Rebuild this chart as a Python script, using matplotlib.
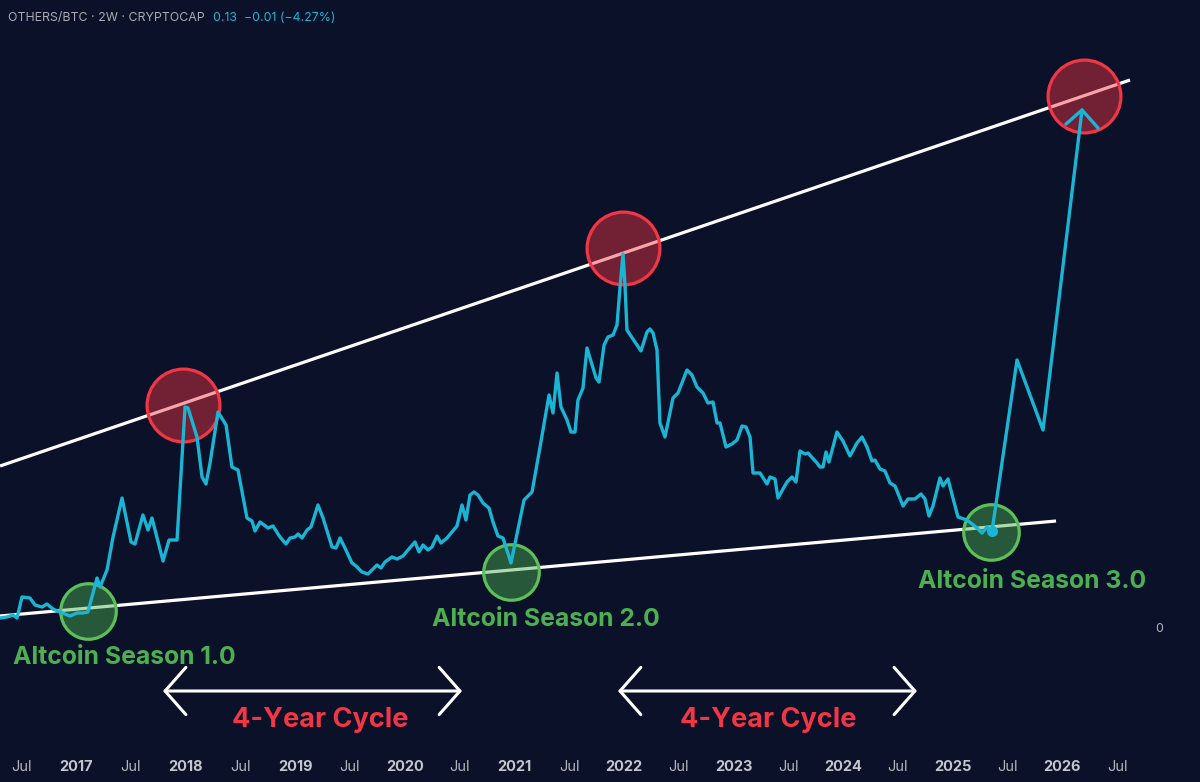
import matplotlib.pyplot as plt

plt.rcParams['font.family'] = ['Inter', 'DejaVu Sans']

# OTHERS/BTC 2W closes, traced (decimal year, ratio)
years = [2016.307, 2016.370, 2016.425, 2016.462, 2016.507, 2016.580, 2016.626, 2016.690, 2016.735, 2016.790,
         2016.854, 2016.945, 2017.009, 2017.064, 2017.109, 2017.192, 2017.219, 2017.283, 2017.338, 2017.420,
         2017.502, 2017.538, 2017.611, 2017.657, 2017.693, 2017.794, 2017.849, 2017.922, 2017.995, 2018.022,
         2018.104, 2018.150, 2018.186, 2018.223, 2018.296, 2018.369, 2018.423, 2018.478, 2018.560, 2018.606,
         2018.633, 2018.679, 2018.752, 2018.797, 2018.861, 2018.916, 2018.953, 2018.998, 2019.026, 2019.062,
         2019.108, 2019.144, 2019.208, 2019.254, 2019.336, 2019.372, 2019.409, 2019.454, 2019.518, 2019.555,
         2019.609, 2019.664, 2019.746, 2019.783, 2019.819, 2019.883, 2019.929, 2019.984, 2020.029, 2020.093,
         2020.130, 2020.166, 2020.212, 2020.248, 2020.294, 2020.330, 2020.385, 2020.431, 2020.476, 2020.522,
         2020.558, 2020.595, 2020.631, 2020.668, 2020.714, 2020.768, 2020.805, 2020.850, 2020.896, 2020.969,
         2021.088, 2021.115, 2021.161, 2021.234, 2021.316, 2021.352, 2021.389, 2021.425, 2021.480, 2021.516,
         2021.553, 2021.580, 2021.626, 2021.662, 2021.745, 2021.772, 2021.818, 2021.854, 2021.900, 2021.936,
         2021.964, 2021.991, 2022.009, 2022.027, 2022.082, 2022.155, 2022.210, 2022.237, 2022.265, 2022.301,
         2022.328, 2022.374, 2022.447, 2022.493, 2022.575, 2022.620, 2022.666, 2022.721, 2022.766, 2022.812,
         2022.849, 2022.876, 2022.931, 2022.985, 2023.031, 2023.077, 2023.113, 2023.150, 2023.177, 2023.241,
         2023.305, 2023.332, 2023.378, 2023.405, 2023.487, 2023.533, 2023.569, 2023.606, 2023.651, 2023.679,
         2023.761, 2023.788, 2023.816, 2023.843, 2023.870, 2023.943, 2023.998, 2024.062, 2024.126, 2024.172,
         2024.217, 2024.263, 2024.290, 2024.336, 2024.381, 2024.427, 2024.473, 2024.546, 2024.591, 2024.655,
         2024.710, 2024.746, 2024.783, 2024.819, 2024.883, 2024.911, 2024.956, 2025.047, 2025.130, 2025.221,
         2025.266, 2025.312, 2025.358]
ratio = [0.011, 0.012, 0.014, 0.011, 0.032, 0.031, 0.024, 0.022, 0.025, 0.020,
         0.017, 0.013, 0.016, 0.016, 0.017, 0.051, 0.042, 0.059, 0.092, 0.131,
         0.087, 0.085, 0.114, 0.099, 0.111, 0.068, 0.089, 0.089, 0.222, 0.221,
         0.192, 0.152, 0.145, 0.166, 0.217, 0.204, 0.162, 0.159, 0.111, 0.108,
         0.098, 0.107, 0.101, 0.103, 0.092, 0.085, 0.091, 0.092, 0.095, 0.091,
         0.099, 0.102, 0.124, 0.111, 0.082, 0.081, 0.091, 0.081, 0.066, 0.063,
         0.057, 0.055, 0.064, 0.061, 0.067, 0.072, 0.070, 0.073, 0.079, 0.087,
         0.077, 0.084, 0.079, 0.082, 0.093, 0.086, 0.091, 0.097, 0.103, 0.124,
         0.109, 0.134, 0.137, 0.134, 0.126, 0.121, 0.107, 0.093, 0.091, 0.066,
         0.129, 0.132, 0.137, 0.182, 0.234, 0.216, 0.256, 0.222, 0.209, 0.197,
         0.197, 0.229, 0.241, 0.281, 0.251, 0.247, 0.284, 0.292, 0.294, 0.304,
         0.342, 0.375, 0.344, 0.299, 0.290, 0.278, 0.297, 0.300, 0.296, 0.279,
         0.206, 0.192, 0.231, 0.236, 0.259, 0.254, 0.242, 0.236, 0.226, 0.227,
         0.206, 0.206, 0.182, 0.185, 0.189, 0.203, 0.202, 0.192, 0.156, 0.156,
         0.145, 0.152, 0.150, 0.131, 0.147, 0.152, 0.147, 0.178, 0.175, 0.176,
         0.166, 0.162, 0.162, 0.177, 0.167, 0.197, 0.188, 0.173, 0.186, 0.192,
         0.182, 0.168, 0.169, 0.160, 0.158, 0.146, 0.143, 0.123, 0.130, 0.130,
         0.135, 0.130, 0.113, 0.123, 0.151, 0.143, 0.150, 0.112, 0.109, 0.101,
         0.096, 0.102, 0.098]

# hand-drawn projection from the last close
proj_years = [2025.358, 2025.586, 2025.823, 2026.179]
proj_ratio = [0.098, 0.269, 0.199, 0.519]
head_years = [2026.033, 2026.179, 2026.325]
head_ratio = [0.505, 0.519, 0.501]

# trendlines
upper_x = [2016.307, 2026.617]
upper_y = [0.163, 0.549]
lower_x = [2016.307, 2025.942]
lower_y = [0.013, 0.108]

# cycle tops / bottoms
top_x = [2017.976, 2021.991, 2026.197]
top_y = [0.224, 0.381, 0.533]
bottom_x = [2017.109, 2020.969, 2025.349]
bottom_y = [0.018, 0.057, 0.097]

season_labels = ['Altcoin Season 1.0', 'Altcoin Season 2.0', 'Altcoin Season 3.0']
season_x = [2017.438, 2021.288, 2025.723]
season_y = [-0.028, 0.010, 0.047]

cycle_start = [2017.794, 2021.945]
cycle_end = [2020.522, 2024.673]
cycle_label_x = [2019.226, 2023.314]

tick_pos = [2016.5, 2017, 2017.5, 2018, 2018.5, 2019, 2019.5, 2020, 2020.5, 2021, 2021.5,
            2022, 2022.5, 2023, 2023.5, 2024, 2024.5, 2025, 2025.5, 2026, 2026.5]
tick_labels = ['Jul', '2017', 'Jul', '2018', 'Jul', '2019', 'Jul', '2020', 'Jul', '2021', 'Jul',
               '2022', 'Jul', '2023', 'Jul', '2024', 'Jul', '2025', 'Jul', '2026', 'Jul']

bg = '#0a1128'
cyan = '#1ab5d5'
red = '#f23645'
green = '#4caf50'

fig = plt.figure(figsize=(12, 7.82), dpi=100, facecolor=bg)
ax = fig.add_axes([0, 30 / 782, 1, 752 / 782])
ax.set_facecolor(bg)
ax.set_xlim(2016.3066, 2027.2555)
ax.set_ylim(-0.123, 0.629)
for s in ax.spines.values():
    s.set_visible(False)
ax.set_yticks([])

ax.set_xticks(tick_pos)
ax.set_xticklabels(tick_labels)
ax.tick_params(axis='x', length=0, pad=6, labelsize=10.5, colors='#b2b5be')
for lbl in ax.get_xticklabels():
    if lbl.get_text() != 'Jul':
        lbl.set_fontweight('bold')
        lbl.set_color('#c3c6ce')

ax.plot(upper_x, upper_y, color='white', lw=2.3, zorder=2, solid_capstyle='butt')
ax.plot(lower_x, lower_y, color='white', lw=2.3, zorder=2, solid_capstyle='butt')

ax.scatter(top_x, top_y, s=2750, facecolor=(0.949, 0.212, 0.271, 0.45),
           edgecolor=red, linewidth=2.3, zorder=3)
ax.scatter(bottom_x, bottom_y, s=1600, facecolor=(0.298, 0.686, 0.314, 0.45),
           edgecolor='#5cbf5a', linewidth=2.3, zorder=3)

kw = dict(color=cyan, lw=2.4, solid_joinstyle='round', solid_capstyle='round', zorder=4)
ax.plot(years, ratio, **kw)
ax.plot(proj_years, proj_ratio, **kw)
ax.plot(head_years, head_ratio, **kw)
ax.plot(years[-1], ratio[-1], 'o', color=cyan, ms=7, zorder=5)

for txt, x, y in zip(season_labels, season_x, season_y):
    ax.text(x, y, txt, color=green, fontsize=17.8, fontweight='bold',
            ha='center', va='center', zorder=6)

for x0, x1, xl in zip(cycle_start, cycle_end, cycle_label_x):
    ax.annotate('', xy=(x1, -0.062), xytext=(x0, -0.062),
                arrowprops=dict(arrowstyle='<->,head_length=0.75,head_width=0.85',
                                color='white', lw=2.2, mutation_scale=20,
                                shrinkA=0, shrinkB=0))
    ax.text(xl, -0.091, '4-Year Cycle', color=red, fontsize=19.5, fontweight='bold',
            ha='center', va='center')

ax.text(2026.881, 0.0, '0', color='#b2b5be', fontsize=9, ha='center', va='center')

t1 = fig.text(8 / 1200, 1 - 18 / 782, 'OTHERS/BTC · 2W · CRYPTOCAP', color='#a9acb5',
              fontsize=8.9, ha='left', va='center')
ax.annotate('0.13  \u22120.01 (\u22124.27%)', xy=(1, 0.5), xycoords=t1,
            xytext=(6, 0), textcoords='offset points', color=cyan,
            fontsize=8.9, ha='left', va='center')

fig.savefig('out.png', dpi=100, facecolor=bg)
